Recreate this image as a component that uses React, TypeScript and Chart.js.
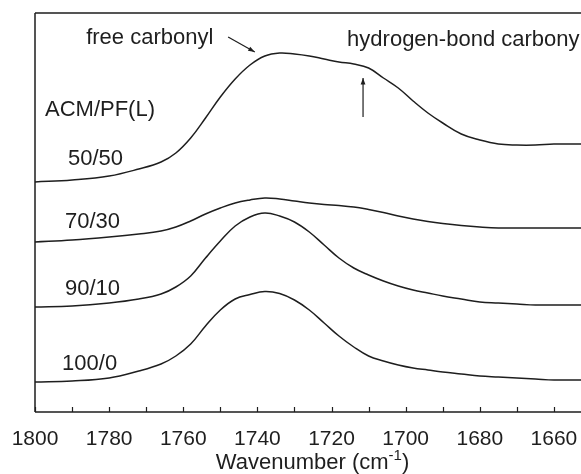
import { useEffect, useRef } from "react";
import { Chart, registerables } from "chart.js";

Chart.register(...registerables);

// Wavenumber (cm-1) sample positions
const wavenumbers = [1800, 1790, 1780, 1772, 1766, 1762, 1758, 1754, 1750, 1746, 1742, 1738, 1734, 1730, 1726, 1722, 1718, 1714, 1710, 1706, 1702, 1698, 1694, 1690, 1685, 1680, 1675, 1670, 1665, 1660, 1655, 1652];

// Absorbance (a.u., stacked with offsets)
const acm50 = [2.30, 2.32, 2.36, 2.43, 2.50, 2.59, 2.74, 2.94, 3.15, 3.33, 3.47, 3.56, 3.59, 3.58, 3.56, 3.53, 3.50, 3.48, 3.44, 3.34, 3.24, 3.11, 2.99, 2.89, 2.78, 2.72, 2.68, 2.67, 2.67, 2.68, 2.68, 2.68];
const acm70 = [1.70, 1.72, 1.75, 1.78, 1.81, 1.85, 1.91, 1.98, 2.04, 2.09, 2.12, 2.14, 2.13, 2.11, 2.09, 2.075, 2.065, 2.05, 2.025, 1.995, 1.96, 1.93, 1.905, 1.885, 1.865, 1.85, 1.84, 1.84, 1.84, 1.84, 1.84, 1.84];
const acm90 = [1.05, 1.06, 1.09, 1.13, 1.18, 1.25, 1.36, 1.54, 1.71, 1.86, 1.95, 1.99, 1.96, 1.90, 1.80, 1.67, 1.54, 1.44, 1.37, 1.31, 1.26, 1.22, 1.19, 1.16, 1.13, 1.10, 1.09, 1.08, 1.07, 1.07, 1.07, 1.07];
const acm100 = [0.30, 0.31, 0.34, 0.41, 0.48, 0.56, 0.68, 0.86, 1.02, 1.13, 1.175, 1.205, 1.185, 1.12, 1.02, 0.89, 0.76, 0.65, 0.56, 0.51, 0.47, 0.44, 0.42, 0.40, 0.38, 0.36, 0.35, 0.34, 0.33, 0.32, 0.32, 0.32];

const seriesNames = ["50/50", "70/30", "90/10", "100/0"];
const seriesValues = [acm50, acm70, acm90, acm100];

const majorTicks = [1800, 1780, 1760, 1740, 1720, 1700, 1680, 1660];
const minorTicks = [1790, 1770, 1750, 1730, 1710, 1690, 1670];

const xMin = 1652.7;
const xMax = 1800;
const yMin = 0;
const yMax = 3.99;

// annotations in data coordinates
const notes = [
  { text: "free carbonyl", x: 1786.2, y: 3.68 },
  { text: "hydrogen-bond carbonyl", x: 1715.8, y: 3.66 },
  { text: "ACM/PF(L)", x: 1797.3, y: 2.96 },
  { text: seriesNames[0], x: 1791.1, y: 2.47 },
  { text: seriesNames[1], x: 1791.9, y: 1.84 },
  { text: seriesNames[2], x: 1791.9, y: 1.17 },
  { text: seriesNames[3], x: 1792.7, y: 0.42 },
];
const arrows = [
  { x0: 1747.9, y0: 3.75, x1: 1740.7, y1: 3.6 },
  { x0: 1711.5, y0: 2.95, x1: 1711.5, y1: 3.34 },
];

const FONT = "'Liberation Sans', Arial, sans-serif";
const INK = "#1e1e1e";

export default function App() {
  const ref = useRef<HTMLCanvasElement | null>(null);

  useEffect(() => {
    const canvas = ref.current;
    if (!canvas) return;

    const decor = {
      id: "decor",
      afterDraw(chart: any) {
        const { ctx, chartArea, scales } = chart;
        const xs = scales.x;
        const ys = scales.y;
        ctx.save();
        ctx.strokeStyle = INK;
        ctx.lineWidth = 1.5;
        // frame: top, left, bottom
        ctx.beginPath();
        ctx.moveTo(chartArea.left, chartArea.top);
        ctx.lineTo(chartArea.right + 2, chartArea.top);
        ctx.moveTo(chartArea.left, chartArea.top);
        ctx.lineTo(chartArea.left, chartArea.bottom);
        ctx.moveTo(chartArea.left, chartArea.bottom);
        ctx.lineTo(chartArea.right + 2, chartArea.bottom);
        ctx.stroke();
        // inner tick marks
        ctx.lineWidth = 1.2;
        ctx.beginPath();
        [...majorTicks, ...minorTicks].forEach((v) => {
          const px = Math.round(xs.getPixelForValue(v)) + 0.5;
          ctx.moveTo(px, chartArea.bottom);
          ctx.lineTo(px, chartArea.bottom - 5);
        });
        ctx.stroke();

        // text notes
        ctx.fillStyle = INK;
        ctx.font = `22px ${FONT}`;
        ctx.textAlign = "left";
        ctx.textBaseline = "alphabetic";
        notes.forEach((n) => {
          ctx.fillText(n.text, xs.getPixelForValue(n.x), ys.getPixelForValue(n.y));
        });

        // arrows
        ctx.lineWidth = 1.2;
        arrows.forEach((a) => {
          const x0 = xs.getPixelForValue(a.x0);
          const y0 = ys.getPixelForValue(a.y0);
          const x1 = xs.getPixelForValue(a.x1);
          const y1 = ys.getPixelForValue(a.y1);
          const ang = Math.atan2(y1 - y0, x1 - x0);
          ctx.beginPath();
          ctx.moveTo(x0, y0);
          ctx.lineTo(x1, y1);
          ctx.stroke();
          const hl = 7;
          const hw = 0.35;
          ctx.beginPath();
          ctx.moveTo(x1, y1);
          ctx.lineTo(x1 - hl * Math.cos(ang - hw), y1 - hl * Math.sin(ang - hw));
          ctx.lineTo(x1 - hl * Math.cos(ang + hw), y1 - hl * Math.sin(ang + hw));
          ctx.closePath();
          ctx.fill();
        });

        // axis title with superscript
        const main = "Wavenumber (cm";
        const sup = "-1";
        const close = ")";
        ctx.font = `22px ${FONT}`;
        const wMain = ctx.measureText(main).width;
        const wClose = ctx.measureText(close).width;
        ctx.font = `15px ${FONT}`;
        const wSup = ctx.measureText(sup).width;
        const total = wMain + wSup + wClose;
        const cx = 312.5;
        const by = chartArea.bottom + 57;
        let tx = cx - total / 2;
        ctx.font = `22px ${FONT}`;
        ctx.fillText(main, tx, by);
        tx += wMain;
        ctx.font = `15px ${FONT}`;
        ctx.fillText(sup, tx, by - 9);
        tx += wSup;
        ctx.font = `22px ${FONT}`;
        ctx.fillText(close, tx, by);
        ctx.restore();
      },
    };

    const chart = new Chart(canvas, {
      type: "line",
      data: {
        datasets: seriesValues.map((vals, i) => ({
          label: seriesNames[i],
          data: vals.map((v, j) => ({ x: wavenumbers[j], y: v })),
          borderColor: INK,
          borderWidth: 1.5,
          pointRadius: 0,
          fill: false,
          tension: 0.4,
        })),
      },
      options: {
        animation: false,
        responsive: true,
        maintainAspectRatio: false,
        layout: { padding: { left: 35, top: 13, right: 0, bottom: 0 } },
        plugins: {
          legend: { display: false },
          tooltip: { enabled: false },
        },
        scales: {
          x: {
            type: "linear",
            reverse: true,
            min: xMin,
            max: xMax,
            grid: { display: false },
            border: { display: false },
            afterBuildTicks: (scale: any) => {
              scale.ticks = majorTicks.map((v) => ({ value: v }));
            },
            afterFit: (scale: any) => {
              scale.height = 62;
              scale.paddingLeft = 0;
              scale.paddingRight = 0;
            },
            ticks: {
              font: { family: FONT, size: 21 },
              color: INK,
              padding: 7,
              maxRotation: 0,
              autoSkip: false,
              callback: (v: any) => String(v),
            },
          },
          y: {
            type: "linear",
            display: false,
            min: yMin,
            max: yMax,
          },
        },
      },
      plugins: [decor],
    });

    return () => chart.destroy();
  }, []);

  return (
    <div style={{ position: "fixed", left: 0, top: 0, width: 581, height: 474, background: "#fff" }}>
      <canvas ref={ref} />
    </div>
  );
}
